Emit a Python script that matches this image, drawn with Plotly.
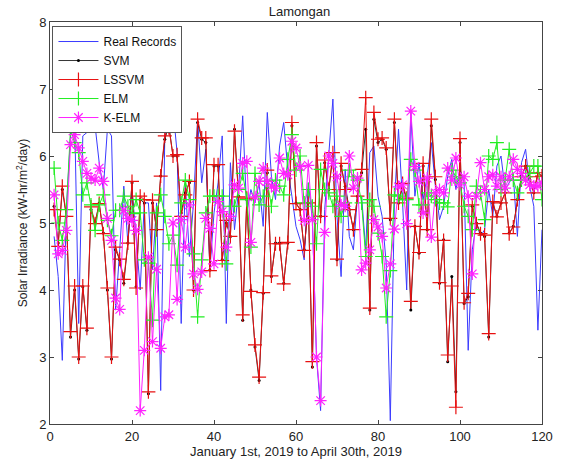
import plotly.graph_objects as go

days = list(range(1, 121))

real = [4.8, 4.2, 2.95, 5.2, 6.3, 6.6, 3.5, 6.3, 6.35, 6.45, 6.45, 5.9, 5.5, 6.4, 6.3, 3.7, 4.6, 5.55, 4.7, 5.5,
        4.8, 4.0, 5.3, 5.3, 4.3, 5.3, 2.5, 6.3, 6.7, 6.7, 6.05, 3.5, 5.6, 4.5, 5.3, 6.55, 5.6, 6.1, 4.3, 5.15,
        5.6, 6.3, 3.5, 5.9, 4.9, 5.5, 6.6, 5.15, 5.5, 5.3, 5.6, 4.95, 6.65, 5.7, 5.35, 6.15, 6.5, 5.8, 5.4, 4.95,
        4.75, 4.45, 5.6, 5.05, 3.0, 2.2, 5.2, 6.05, 6.85, 5.1, 4.2, 5.8, 4.8, 4.6, 5.4, 5.4, 4.6, 6.05, 6.15, 5.4,
        5.1, 4.4, 2.05, 5.3, 6.4, 5.3, 4.0, 6.65, 5.4, 5.9, 5.35, 5.7, 6.2, 5.55, 5.05, 5.25, 5.7, 5.95, 5.5, 5.8,
        5.6, 3.1, 4.6, 5.0, 4.8, 4.9, 5.5, 5.1, 5.85, 6.0, 5.5, 5.6, 5.7, 4.8, 5.9, 6.1, 5.55, 5.25, 3.4, 4.9]

svm = [5.25, 4.7, 5.5, 5.1, 3.3, 4.0, 2.97, 4.05, 3.4, 5.2, 5.0, 5.3, 4.85, 4.0, 2.97, 4.6, 4.45, 4.1, 4.7, 5.6,
       4.05, 5.35, 5.3, 2.45, 5.3, 4.9, 5.7, 6.25, 6.45, 6.0, 6.0, 5.15, 5.45, 5.6, 4.0, 6.5, 6.25, 6.2, 4.3, 5.85,
       5.85, 4.45, 5.0, 4.8, 6.4, 5.4, 3.55, 5.35, 4.0, 3.15, 2.65, 3.95, 5.75, 4.2, 4.7, 4.7, 4.1, 4.7, 6.45, 5.3,
       5.2, 4.6, 5.3, 2.85, 6.15, 5.1, 5.9, 5.5, 6.0, 4.45, 5.85, 5.55, 5.2, 4.9, 5.4, 5.75, 6.4, 3.7, 6.55, 6.2,
       6.25, 6.1, 5.05, 6.5, 5.3, 5.55, 5.35, 3.7, 4.95, 4.55, 5.85, 4.9, 6.45, 5.65, 4.1, 4.75, 2.93, 4.2, 2.48, 6.2,
       3.8, 3.9, 5.25, 5.0, 4.85, 4.8, 3.3, 5.3, 5.1, 5.3, 5.45, 4.85, 4.95, 5.35, 5.7, 5.85, 5.65, 5.45, 5.75, 5.7]

lssvm = [5.2, 4.65, 5.55, 5.1, 3.38, 4.06, 3.0, 4.06, 3.43, 5.24, 4.99, 5.29, 4.84, 4.03, 3.0, 4.64, 4.46, 4.16, 4.7, 5.62,
         4.03, 5.4, 5.35, 2.48, 5.34, 4.9, 5.7, 6.3, 6.42, 6.0, 6.02, 5.1, 5.42, 5.62, 4.0, 6.55, 6.27, 6.27, 4.29, 5.87,
         5.87, 4.44, 5.04, 4.8, 6.37, 5.39, 3.63, 5.37, 3.98, 3.18, 2.7, 3.96, 5.79, 4.21, 4.69, 4.69, 4.09, 4.71, 6.5, 5.29,
         5.2, 4.59, 5.3, 2.93, 6.2, 5.1, 5.94, 5.5, 6.05, 4.46, 5.89, 5.5, 5.2, 4.9, 5.4, 5.8, 6.87, 3.73, 6.65, 6.25,
         6.27, 6.12, 5.07, 6.55, 5.3, 5.59, 5.37, 3.83, 4.95, 4.56, 5.89, 4.9, 6.55, 5.69, 4.11, 4.74, 3.03, 4.06, 2.25, 6.26,
         3.81, 3.95, 5.27, 4.99, 4.84, 4.82, 3.35, 5.32, 5.09, 5.3, 5.45, 4.84, 4.94, 5.35, 5.69, 5.85, 5.69, 5.45, 5.75, 5.7]

elm = [5.82, 5.0, 4.74, 5.2, 6.4, 6.2, 6.05, 5.42, 5.6, 5.27, 4.89, 5.27, 5.42, 5.04, 4.81, 5.19, 5.19, 5.4, 5.25, 5.14,
       5.35, 5.15, 4.45, 4.4, 3.55, 5.15, 5.42, 5.1, 4.69, 4.82, 4.37, 5.3, 5.64, 5.35, 4.54, 3.6, 4.45, 5.15, 5.4, 5.4,
       5.4, 5.4, 4.39, 5.25, 5.25, 5.5, 5.74, 5.35, 4.64, 5.74, 5.27, 5.4, 5.62, 5.25, 5.64, 5.55, 5.42, 5.95, 6.32, 5.79,
       6.0, 5.3, 5.5, 5.25, 4.69, 5.8, 5.5, 5.45, 5.25, 5.4, 5.1, 5.3, 5.79, 5.69, 5.64, 5.3, 4.5, 5.35, 5.25, 4.85,
       4.5, 3.6, 4.29, 5.42, 5.4, 5.35, 5.35, 5.95, 5.79, 5.27, 5.27, 5.45, 5.4, 5.35, 5.3, 5.3, 5.24, 5.79, 5.69, 5.6,
       5.25, 5.1, 4.9, 5.55, 5.45, 5.05, 6.0, 5.95, 6.2, 5.5, 5.64, 6.1, 5.64, 5.45, 5.64, 5.69, 5.74, 5.85, 5.85, 5.35]

kelm = [5.42, 4.54, 4.59, 4.89, 6.17, 6.32, 6.12, 5.92, 5.74, 5.67, 5.64, 5.82, 5.62, 5.07, 4.74, 3.88, 3.71, 5.19, 5.07, 5.04,
        4.89, 2.2, 3.1, 4.49, 3.23, 4.31, 3.13, 3.6, 3.63, 5.0, 3.86, 5.05, 4.64, 5.27, 4.24, 4.01, 4.27, 5.07, 4.92, 4.39,
        5.32, 5.17, 4.64, 5.1, 5.57, 5.52, 5.89, 5.92, 4.71, 5.39, 5.62, 5.82, 5.62, 5.55, 5.52, 5.97, 5.74, 5.72, 6.22, 6.12,
        5.84, 5.04, 5.86, 5.05, 3.0, 2.35, 4.86, 6.0, 5.89, 5.69, 5.27, 5.25, 6.0, 5.52, 5.67, 4.3, 4.4, 4.6, 5.05, 4.94,
        4.8, 4.03, 4.39, 4.91, 5.54, 5.57, 4.99, 6.67, 5.84, 5.62, 5.15, 5.67, 4.79, 5.45, 5.5, 5.45, 5.82, 5.64, 5.97, 5.57,
        5.69, 5.4, 4.24, 5.4, 5.9, 5.5, 5.69, 5.72, 5.55, 5.69, 5.52, 5.69, 5.95, 5.8, 5.74, 5.64, 5.57, 5.55, 5.55, 5.6]

xticks = [0, 20, 40, 60, 80, 100, 120]
yticks = [2, 3, 4, 5, 6, 7, 8]

fig = go.Figure()
fig.add_trace(go.Scatter(x=days, y=real, mode="lines", name="Real Records",
                         line=dict(color="#3a3aff", width=1)))
fig.add_trace(go.Scatter(x=days, y=svm, mode="lines+markers", name="SVM",
                         line=dict(color="black", width=0.8),
                         marker=dict(symbol="circle", size=3, color="black")))
fig.add_trace(go.Scatter(x=days, y=lssvm, mode="lines+markers", name="LSSVM",
                         line=dict(color="#e81010", width=1),
                         marker=dict(symbol="cross-thin", size=10,
                                     line=dict(color="#e81010", width=1.2))))
fig.add_trace(go.Scatter(x=days, y=elm, mode="lines+markers", name="ELM",
                         line=dict(color="#22ee22", width=1),
                         marker=dict(symbol="cross-thin", size=10,
                                     line=dict(color="#22ee22", width=1.2))))
fig.add_trace(go.Scatter(x=days, y=kelm, mode="lines+markers", name="K-ELM",
                         line=dict(color="#ff22ff", width=1),
                         marker=dict(symbol="asterisk", size=10,
                                     line=dict(color="#ff22ff", width=1.2))))

axis_common = dict(showline=True, linecolor="#444", linewidth=1, mirror="ticks",
                   ticks="inside", ticklen=4, tickcolor="#444", showgrid=False,
                   zeroline=False, tickfont=dict(size=13, color="#222"))

fig.update_layout(
    width=565, height=471,
    margin=dict(l=50, r=14, t=22, b=47),
    paper_bgcolor="white", plot_bgcolor="white",
    font=dict(family="Liberation Sans, Arial, sans-serif", size=13, color="#222"),
    title=dict(text="Lamongan", x=0.53, xanchor="center", y=0.985, yanchor="top",
               font=dict(size=13)),
    xaxis=dict(range=[0, 120], tickvals=xticks,
               title=dict(text="January 1st, 2019 to April 30th, 2019", standoff=2, font=dict(size=13)),
               **axis_common),
    yaxis=dict(range=[2, 8], tickvals=yticks,
               title=dict(text="Solar Irradiance (kW-hr/m<sup>2</sup>/day)", standoff=8, font=dict(size=12)),
               **axis_common),
    legend=dict(x=0.005, y=0.99, xanchor="left", yanchor="top",
                bgcolor="white", bordercolor="#555", borderwidth=1,
                font=dict(size=12, color="#111"), tracegroupgap=0,
                itemwidth=40),
    showlegend=True,
)

fig.write_html("out.html")
